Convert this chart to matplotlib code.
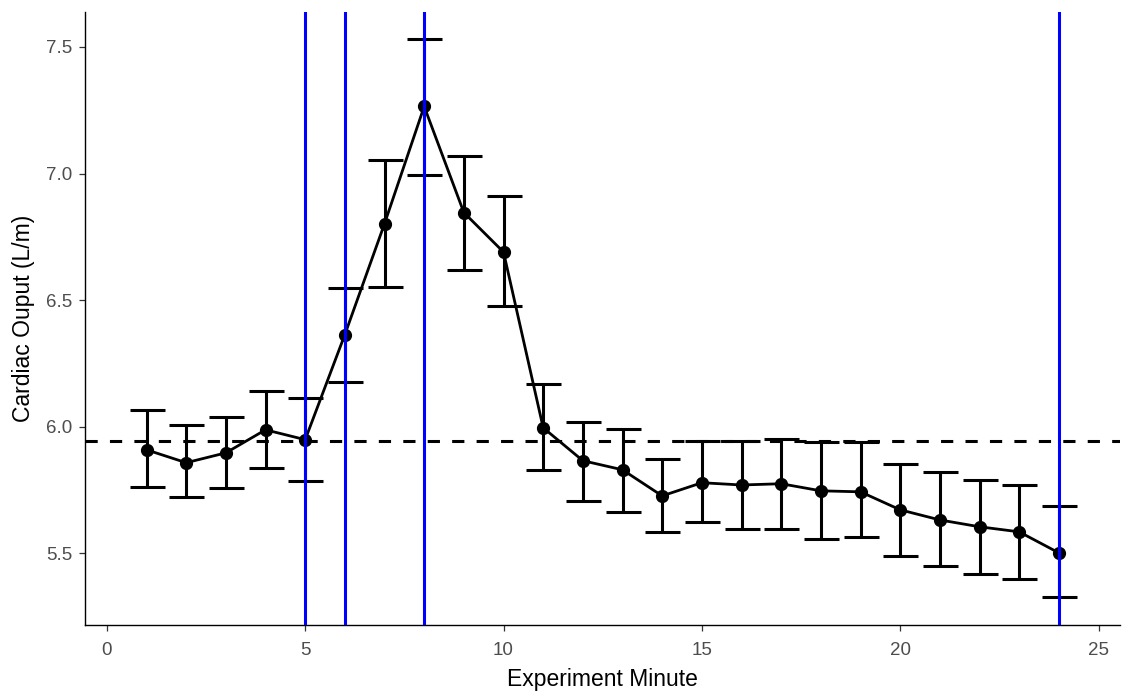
import matplotlib.pyplot as plt
import numpy as np

plt.rcParams["font.family"] = ["Liberation Sans", "DejaVu Sans"]

minutes = np.arange(1, 25)
cardiac_output = [5.909, 5.858, 5.897, 5.988, 5.949, 6.364, 6.802, 7.265,
                  6.846, 6.690, 5.996, 5.866, 5.830, 5.727, 5.779, 5.770,
                  5.775, 5.747, 5.743, 5.672, 5.632, 5.605, 5.585, 5.502]
upper = [6.067, 6.008, 6.040, 6.142, 6.115, 6.549, 7.055, 7.530,
         7.071, 6.910, 6.170, 6.020, 5.990, 5.874, 5.945, 5.945,
         5.953, 5.940, 5.940, 5.854, 5.822, 5.790, 5.770, 5.688]
lower = [5.763, 5.723, 5.759, 5.838, 5.787, 6.178, 6.553, 6.996,
         6.620, 6.478, 5.830, 5.708, 5.664, 5.585, 5.625, 5.597,
         5.597, 5.557, 5.565, 5.490, 5.450, 5.419, 5.399, 5.328]
baseline = 5.945
event_minutes = [5, 6, 8, 24]

co = np.array(cardiac_output)
yerr = [co - np.array(lower), np.array(upper) - co]

fig = plt.figure(figsize=(11.22, 6.95), dpi=100)
ax = fig.add_axes([0.0758, 0.1007, 0.922, 0.882])

ax.errorbar(minutes, co, yerr=yerr, fmt="none", ecolor="black",
            elinewidth=2.2, capsize=12.6, capthick=2.2, zorder=2)
ax.plot(minutes, co, color="black", lw=2.0, marker="o", ms=8.5, zorder=3)
ax.axhline(baseline, color="black", lw=2.2, dashes=(4, 4), zorder=4)
for m in event_minutes:
    ax.axvline(m, color="#0000FF", lw=2.2, zorder=5)

ax.set_xlim(-0.55, 25.53)
ax.set_ylim(5.217, 7.638)
ax.set_xticks([0, 5, 10, 15, 20, 25])
ax.set_yticks([5.5, 6.0, 6.5, 7.0, 7.5])
ax.set_yticklabels(["5.5", "6.0", "6.5", "7.0", "7.5"])

for side in ("top", "right"):
    ax.spines[side].set_visible(False)
for side in ("left", "bottom"):
    ax.spines[side].set_linewidth(1.0)
    ax.spines[side].set_color("black")
ax.tick_params(colors="#333333", labelcolor="#4D4D4D", labelsize=13.5,
               length=4, width=0.9)
ax.tick_params(axis="x", pad=8)
ax.tick_params(axis="y", pad=5)

ax.set_xlabel("Experiment Minute", fontsize=16.5, color="black", labelpad=7)
ax.set_ylabel("Cardiac Ouput (L/m)", fontsize=16.5, color="black", labelpad=8)

fig.savefig("out.png", dpi=100, facecolor="white")
